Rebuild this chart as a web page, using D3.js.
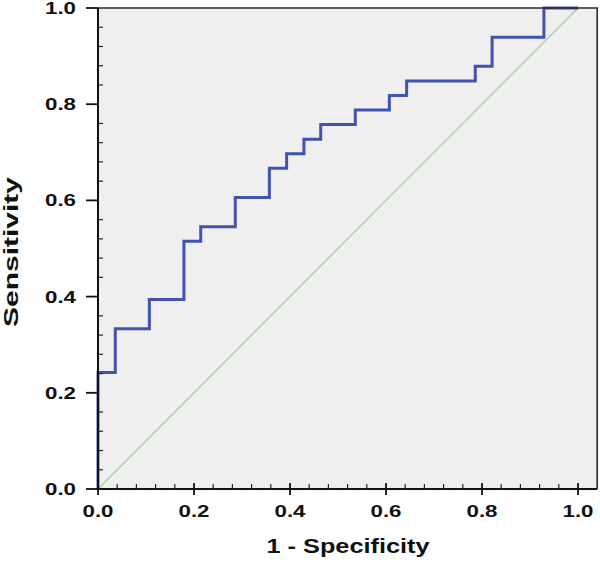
<!DOCTYPE html>
<html>
<head>
<meta charset="utf-8">
<script src="https://cdn.jsdelivr.net/npm/d3@7"></script>
<style>
  body { margin: 0; background: #fff; }
  text { font-family: "Liberation Sans", Arial, sans-serif; font-weight: bold; fill: #111; }
</style>
</head>
<body>
<div id="chart"></div>
<script>
// ROC curve vertices (1 - specificity, sensitivity), drawn as step-after
var fpr = [0, 0, 0.036, 0.107, 0.179, 0.214, 0.286, 0.357, 0.393, 0.429, 0.464, 0.536, 0.607, 0.643, 0.786, 0.821, 0.929, 1.0];
var tpr = [0, 0.242, 0.333, 0.394, 0.515, 0.545, 0.606, 0.667, 0.697, 0.727, 0.758, 0.788, 0.818, 0.848, 0.879, 0.939, 1.0, 1.0];
var refLine = [0, 1];
var majorTicks = [0, 0.2, 0.4, 0.6, 0.8, 1.0];
var tickLabels = ["0.0", "0.2", "0.4", "0.6", "0.8", "1.0"];

var width = 600, height = 562;
var margin = {top: 8, left: 98, bottom: 73, right: 3};
var xEnd = 1.04; // plot frame runs a bit past 1.0 on the right

var x = d3.scaleLinear().domain([0, 1]).range([margin.left, margin.left + 480]);
var y = d3.scaleLinear().domain([0, 1]).range([height - margin.bottom, margin.top]);

var minorTicks = d3.range(1, 26).map(function(i){ return i * 0.04; })
    .filter(function(v){ return Math.abs(v / 0.2 - Math.round(v / 0.2)) > 1e-6; });

var svg = d3.select("#chart").append("svg")
    .attr("width", width)
    .attr("height", height);

// plot background
svg.append("rect")
    .attr("x", x(0))
    .attr("y", y(1))
    .attr("width", x(xEnd) - x(0))
    .attr("height", y(0) - y(1))
    .attr("fill", "#efefef");

// reference diagonal
svg.append("line")
    .attr("x1", x(refLine[0])).attr("y1", y(refLine[0]))
    .attr("x2", x(refLine[1])).attr("y2", y(refLine[1]))
    .attr("stroke", "#98d49a")
    .attr("stroke-width", 1.2);

// ROC step curve
var pts = fpr.map(function(d, i){ return [d, tpr[i]]; });
svg.append("path")
    .datum(pts)
    .attr("fill", "none")
    .attr("stroke", "#4152b0")
    .attr("stroke-width", 3)
    .attr("d", d3.line()
        .x(function(d){ return x(d[0]); })
        .y(function(d){ return y(d[1]); })
        .curve(d3.curveStepAfter));

// frame: top and right
svg.append("path")
    .attr("d", "M" + x(0) + "," + y(1) + "H" + x(xEnd) + "V" + y(0))
    .attr("fill", "none")
    .attr("stroke", "#2a2a2a")
    .attr("stroke-width", 1.6);

// axes
var gx = svg.append("g").attr("transform", "translate(0," + y(0) + ")");
var gy = svg.append("g").attr("transform", "translate(" + x(0) + ",0)");

gx.append("line").attr("x1", x(0) - 1).attr("x2", x(xEnd)).attr("stroke", "#111").attr("stroke-width", 2);
gy.append("line").attr("y1", y(1)).attr("y2", y(0) + 1).attr("stroke", "#111").attr("stroke-width", 2);

gx.selectAll(".minor").data(minorTicks).enter().append("line")
    .attr("x1", function(d){ return x(d); }).attr("x2", function(d){ return x(d); })
    .attr("y1", 0).attr("y2", -5)
    .attr("stroke", "#222").attr("stroke-width", 1.2);
gx.selectAll(".major").data(majorTicks).enter().append("line")
    .attr("x1", function(d){ return x(d); }).attr("x2", function(d){ return x(d); })
    .attr("y1", -6).attr("y2", 6)
    .attr("stroke", "#111").attr("stroke-width", 1.8);
gx.selectAll(".lab").data(majorTicks).enter().append("text")
    .attr("x", function(d){ return x(d); })
    .attr("y", 28)
    .attr("text-anchor", "middle")
    .attr("font-size", 17)
    .attr("textLength", 31)
    .attr("lengthAdjust", "spacingAndGlyphs")
    .text(function(d, i){ return tickLabels[i]; });

gy.selectAll(".minor").data(minorTicks.filter(function(v){ return v < 1; })).enter().append("line")
    .attr("y1", function(d){ return y(d); }).attr("y2", function(d){ return y(d); })
    .attr("x1", 0).attr("x2", 5)
    .attr("stroke", "#222").attr("stroke-width", 1.2);
gy.selectAll(".major").data(majorTicks).enter().append("line")
    .attr("y1", function(d){ return y(d); }).attr("y2", function(d){ return y(d); })
    .attr("x1", -12).attr("x2", 0)
    .attr("stroke", "#111").attr("stroke-width", 1.8);
gy.selectAll(".lab").data(majorTicks).enter().append("text")
    .attr("x", -22)
    .attr("y", function(d){ return y(d) + 6; })
    .attr("text-anchor", "end")
    .attr("font-size", 17)
    .attr("textLength", 31)
    .attr("lengthAdjust", "spacingAndGlyphs")
    .text(function(d, i){ return tickLabels[i]; });

// axis titles
svg.append("text")
    .attr("x", 348)
    .attr("y", 553)
    .attr("text-anchor", "middle")
    .attr("font-size", 21)
    .attr("textLength", 163)
    .attr("lengthAdjust", "spacingAndGlyphs")
    .text("1 - Specificity");

svg.append("text")
    .attr("transform", "translate(18,252) rotate(-90)")
    .attr("text-anchor", "middle")
    .attr("font-size", 21)
    .attr("textLength", 150)
    .attr("lengthAdjust", "spacingAndGlyphs")
    .text("Sensitivity");
</script>
</body>
</html>
